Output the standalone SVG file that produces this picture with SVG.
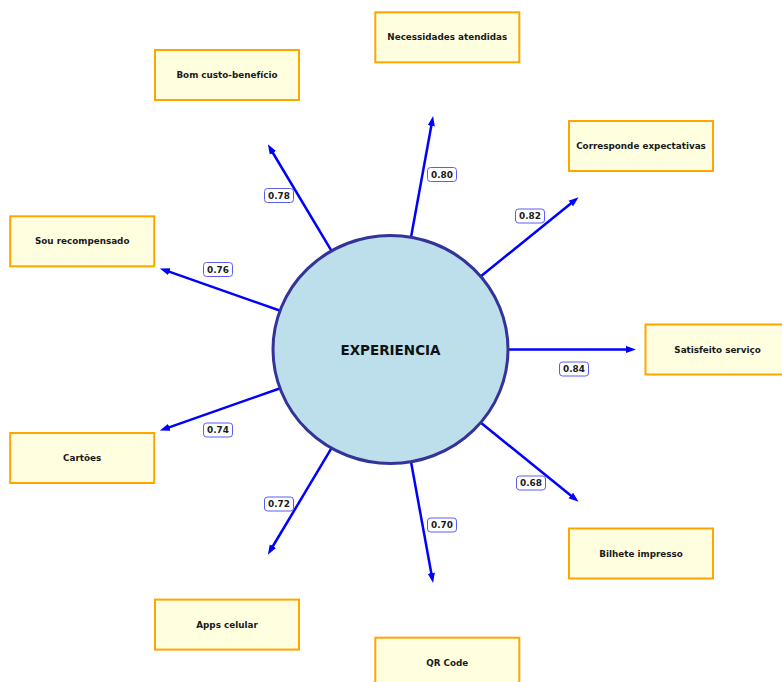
<svg xmlns="http://www.w3.org/2000/svg" width="782" height="682" viewBox="0 0 782 682">
  <defs>
    <marker id="head" markerUnits="userSpaceOnUse" viewBox="0 -4 10 8" refX="4" refY="0" markerWidth="10" markerHeight="8" orient="auto">
      <path d="M0,-3.6 L10,0 L0,3.6 Z" fill="#0000ff"/>
    </marker>
  </defs>
  <style>
    .box { fill: #ffffe0; stroke: #ffa500; stroke-width: 2; }
    .btxt { font-family: "DejaVu Sans", "Liberation Sans", sans-serif; font-weight: bold; font-size: 8.8px; fill: #1a1a1a; text-anchor: middle; dominant-baseline: central; }
    .link { stroke: #0000ff; stroke-width: 2.5; fill: none; marker-end: url(#head); }
    .tag rect { fill: #ffffff; stroke: #5c5cf2; stroke-width: 1; }
    .tag text { font-family: "DejaVu Sans", "Liberation Sans", sans-serif; font-weight: bold; font-size: 8.9px; fill: #1a1a1a; text-anchor: middle; dominant-baseline: central; }
  </style>
  <rect width="782" height="682" fill="#ffffff"/>

  <!-- spokes from the hub to each item -->
  <g id="connectors">
    <line class="link" x1="508.5" y1="349.5" x2="630" y2="349.5"/>
    <line class="link" x1="480.9" y1="276.2" x2="573.9" y2="201.0"/>
    <line class="link" x1="411.0" y1="237.2" x2="432.0" y2="122.0"/>
    <line class="link" x1="331.5" y1="250.8" x2="270.9" y2="149.5"/>
    <line class="link" x1="279.6" y1="310.5" x2="165.5" y2="270.4"/>
    <line class="link" x1="279.6" y1="388.5" x2="165.5" y2="428.6"/>
    <line class="link" x1="331.5" y1="448.2" x2="270.9" y2="549.5"/>
    <line class="link" x1="411.0" y1="461.8" x2="432.0" y2="577.0"/>
    <line class="link" x1="480.9" y1="422.8" x2="573.9" y2="498.0"/>
  </g>

  <!-- weight tags -->
  <g id="weights">
    <g class="tag"><rect x="559.5" y="362" width="29" height="14" rx="3"/><text x="574" y="369">0.84</text></g>
    <g class="tag"><rect x="515.5" y="209" width="29" height="14" rx="3"/><text x="530" y="216">0.82</text></g>
    <g class="tag"><rect x="427.5" y="167.5" width="29" height="14" rx="3"/><text x="442" y="174.5">0.80</text></g>
    <g class="tag"><rect x="264.5" y="188.5" width="29" height="14" rx="3"/><text x="279" y="195.5">0.78</text></g>
    <g class="tag"><rect x="203.5" y="262.5" width="29" height="14" rx="3"/><text x="218" y="269.5">0.76</text></g>
    <g class="tag"><rect x="203.5" y="423" width="29" height="14" rx="3"/><text x="218" y="430">0.74</text></g>
    <g class="tag"><rect x="264.5" y="497" width="29" height="14" rx="3"/><text x="279" y="504">0.72</text></g>
    <g class="tag"><rect x="427.5" y="518" width="29" height="14" rx="3"/><text x="442" y="525">0.70</text></g>
    <g class="tag"><rect x="516.5" y="476" width="29" height="14" rx="3"/><text x="531" y="483">0.68</text></g>
  </g>

  <!-- hub -->
  <g id="experiencia">
    <ellipse cx="390.5" cy="349.5" rx="117.5" ry="114" fill="#bddfeb" stroke="#333399" stroke-width="3"/>
    <text x="390.5" y="349.5" font-family="DejaVu Sans, Liberation Sans, sans-serif" font-weight="bold" font-size="13.5px" fill="#111111" text-anchor="middle" dominant-baseline="central">EXPERIENCIA</text>
  </g>

  <!-- items -->
  <g id="satisfeito-servico">
    <rect class="box" x="645.5" y="324.5" width="144" height="50"/>
    <text class="btxt" x="717.5" y="349.5">Satisfeito serviço</text>
  </g>
  <g id="corresponde-expectativas">
    <rect class="box" x="569" y="121" width="144" height="50"/>
    <text class="btxt" x="641" y="146">Corresponde expectativas</text>
  </g>
  <g id="necessidades-atendidas">
    <rect class="box" x="375.3" y="12.3" width="144" height="50"/>
    <text class="btxt" x="447.3" y="37.3">Necessidades atendidas</text>
  </g>
  <g id="bom-custo-beneficio">
    <rect class="box" x="155" y="50" width="144" height="50"/>
    <text class="btxt" x="227" y="75">Bom custo-benefício</text>
  </g>
  <g id="sou-recompensado">
    <rect class="box" x="10.2" y="216.3" width="144" height="50"/>
    <text class="btxt" x="82.2" y="241.3">Sou recompensado</text>
  </g>
  <g id="cartoes">
    <rect class="box" x="10.2" y="433" width="144" height="50"/>
    <text class="btxt" x="82.2" y="458">Cartões</text>
  </g>
  <g id="apps-celular">
    <rect class="box" x="155" y="599.6" width="144" height="50"/>
    <text class="btxt" x="227" y="624.6">Apps celular</text>
  </g>
  <g id="qr-code">
    <rect class="box" x="375.3" y="637.7" width="144" height="50"/>
    <text class="btxt" x="447.3" y="662.7">QR Code</text>
  </g>
  <g id="bilhete-impresso">
    <rect class="box" x="569" y="528.5" width="144" height="50"/>
    <text class="btxt" x="641" y="553.5">Bilhete impresso</text>
  </g>
</svg>
